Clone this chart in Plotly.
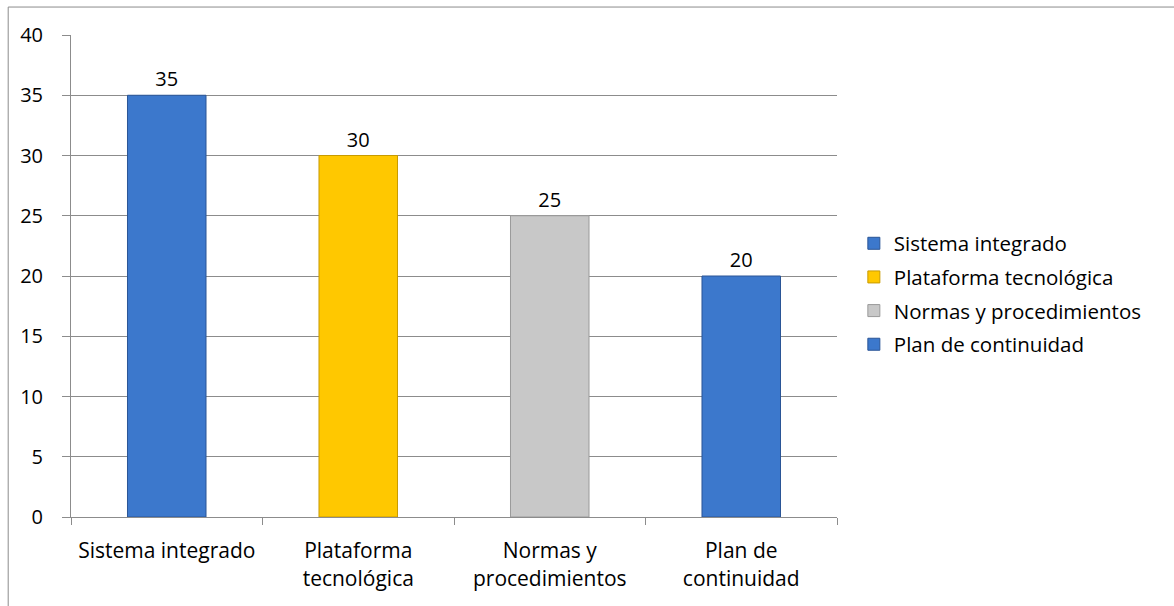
import plotly.graph_objects as go

categories = ["Sistema integrado", "Plataforma tecnológica", "Normas y procedimientos", "Plan de continuidad"]
tick_labels = ["Sistema integrado", "Plataforma<br>tecnológica", "Normas y<br>procedimientos", "Plan de<br>continuidad"]
values = [35, 30, 25, 20]
colors = ["#3C78CC", "#FFC800", "#C8C8C8", "#3C78CC"]
edge_colors = ["#2A5596", "#C89B00", "#9A9A9A", "#2A5596"]

FONT = "'Open Sans', sans-serif"

fig = go.Figure()
for i, (cat, val) in enumerate(zip(categories, values)):
    fig.add_trace(go.Bar(
        x=[tick_labels[i]], y=[val], name=cat,
        marker=dict(color=colors[i], line=dict(color=edge_colors[i], width=1)),
        width=0.41,
        text=[str(val)], textposition="outside",
        textfont=dict(size=20, color="#000000", family=FONT),
        cliponaxis=False,
        legendgroup=f"g{i}",
    ))

fig.update_layout(
    width=1174, height=606,
    margin=dict(l=71, r=337, t=35, b=89),
    paper_bgcolor="white", plot_bgcolor="white",
    barmode="overlay",
    font=dict(family=FONT, size=20, color="#000000"),
    legend=dict(x=1.022, y=0.609, xanchor="left", yanchor="top",
                font=dict(size=20.5, family=FONT), tracegroupgap=4,
                bgcolor="rgba(0,0,0,0)"),
    xaxis=dict(
        categoryorder="array", categoryarray=tick_labels,
        showline=True, linecolor="#8C8C8C", linewidth=1,
        ticks="outside", tickson="boundaries", ticklen=7, tickcolor="#8C8C8C",
        showgrid=False, tickfont=dict(size=21, family=FONT),
        ticklabelstandoff=15,
    ),
    yaxis=dict(
        range=[0, 40], dtick=5,
        showline=True, linecolor="#8C8C8C", linewidth=1,
        ticks="outside", ticklen=8, tickcolor="#8C8C8C",
        showgrid=True, gridcolor="#8C8C8C", gridwidth=1,
        zeroline=False, tickfont=dict(size=20, family=FONT),
        ticklabelstandoff=15,
    ),
    shapes=[dict(type="rect", xref="paper", yref="paper",
                 x0=-0.082, x1=1.5, y0=-0.3, y1=1.058,
                 line=dict(color="#8C8C8C", width=1), fillcolor="rgba(0,0,0,0)",
                 layer="below")],
)

fig.write_html("out.html")
